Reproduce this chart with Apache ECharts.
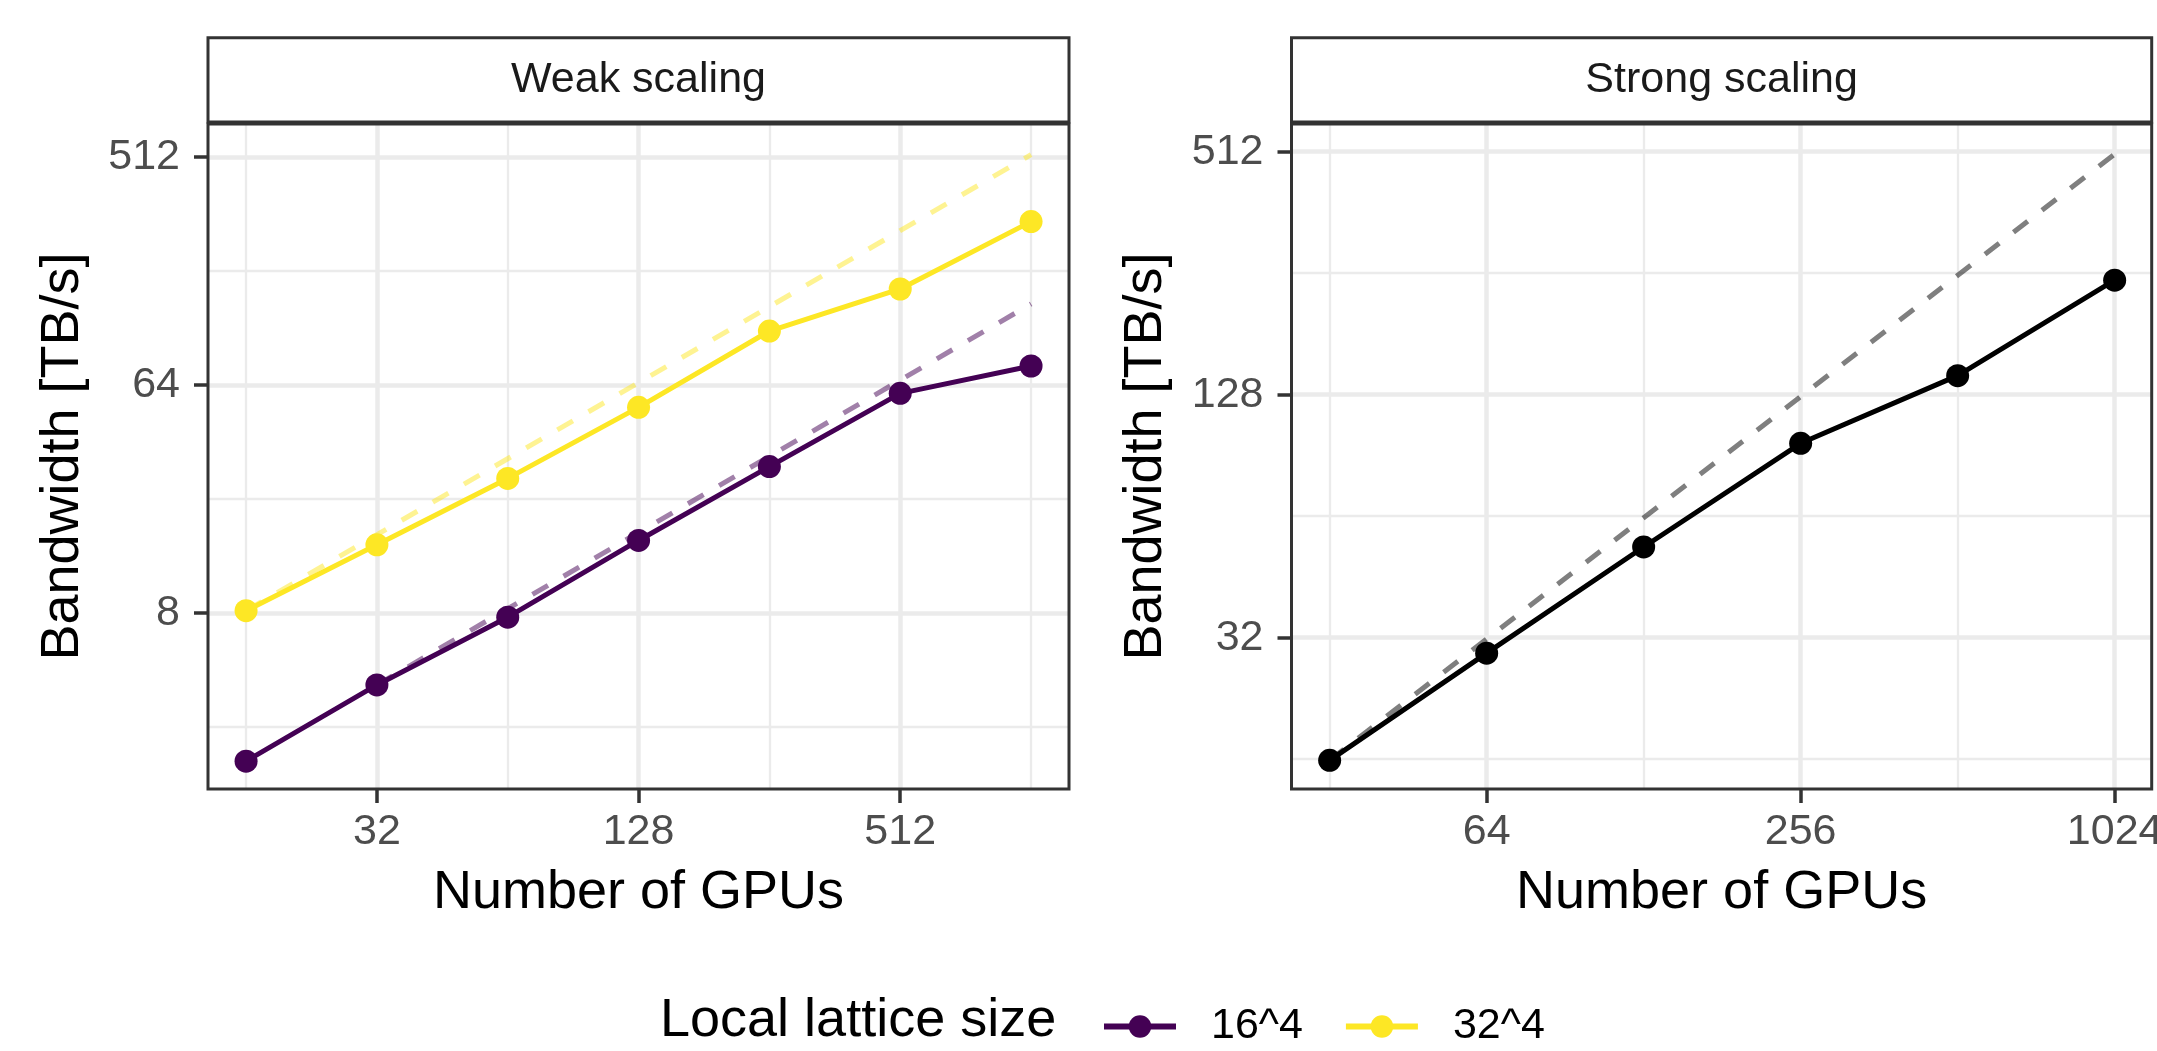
<!DOCTYPE html>
<html>
<head>
<meta charset="utf-8">
<title>Weak and strong scaling</title>
<script src="https://cdn.jsdelivr.net/npm/echarts@6/dist/echarts.min.js"></script>
<style>
  html, body { margin: 0; padding: 0; background: #fff; }
  #chart { width: 2157px; height: 1051px; }
</style>
</head>
<body>
<div id="chart"></div>
<script>
// weak scaling: bandwidth [TB/s] per number of GPUs, one list per local lattice size
const weakGpus = [16, 32, 64, 128, 256, 512, 1024];
const bw16 = [2.07, 4.15, 7.7, 15.5, 30.4, 59.3, 76.1];
const bw32 = [8.17, 14.9, 27.3, 52.2, 104.7, 153.6, 284];
// ideal scaling (dashed), end points
const ideal16 = [[32, 4.15], [1024, 134]];
const ideal32 = [[16, 8.17], [1024, 523]];

// strong scaling
const strongGpus = [32, 64, 128, 256, 512, 1024];
const bwStrong = [15.9, 29.3, 53.7, 97, 142.7, 246];
const idealStrong = [[32, 15.9], [1024, 505]];

// tick labels (major) and minor grid positions
const weakXTicks = [32, 128, 512];
const weakXMinor = [16, 64, 256, 1024];
const weakYTicks = [8, 64, 512];
const weakYMinor = [2.83, 22.6, 181];
const strongXTicks = [64, 256, 1024];
const strongXMinor = [32, 128, 512];
const strongYTicks = [32, 128, 512];
const strongYMinor = [16, 64, 256];

const FONT = '"Liberation Sans", Arial, Helvetica, sans-serif';
const p2 = e => Math.pow(2, e);

const panels = [
  { left: 208, top: 124, width: 861, height: 665 },
  { left: 1291.5, top: 124, width: 860.2, height: 665 }
];

function axis(gridIndex, range, ticks, minor, isX) {
  const major = {
    type: 'log', logBase: 2, gridIndex: gridIndex,
    min: p2(range[0]), max: p2(range[1]),
    axisLine: { show: false },
    axisTick: { show: true, customValues: ticks, length: 14, lineStyle: { color: '#333333', width: 3.5 } },
    axisLabel: {
      customValues: ticks, margin: isX ? 22 : 28,
      fontSize: 43, color: '#4D4D4D', fontFamily: FONT,
      formatter: v => String(Math.round(v))
    },
    splitLine: { show: true, lineStyle: { color: '#EBEBEB', width: 4.5 } },
    name: isX ? 'Number of GPUs' : 'Bandwidth [TB/s]',
    nameLocation: 'middle',
    nameGap: isX ? 77 : 118,
    nameMoveOverlap: false,
    nameTextStyle: { fontSize: 54, color: '#000', fontFamily: FONT }
  };
  const minorAxis = {
    type: 'log', logBase: 2, gridIndex: gridIndex,
    min: p2(range[0]), max: p2(range[1]),
    axisLine: { show: false },
    axisTick: { show: false, customValues: minor },
    axisLabel: { show: false, customValues: minor },
    splitLine: { show: true, lineStyle: { color: '#EBEBEB', width: 2.3 } }
  };
  return [major, minorAxis];
}

function pairs(xs, ys) {
  return xs.map((x, i) => [x, ys[i]]);
}

function solid(name, color, xi, yi, data) {
  return {
    name: name, type: 'line', xAxisIndex: xi, yAxisIndex: yi,
    data: data, symbol: 'circle', symbolSize: 23, showAllSymbol: true,
    lineStyle: { color: color, width: 5 },
    itemStyle: { color: color, borderWidth: 0 },
    silent: true, z: 3
  };
}

function dashed(name, color, xi, yi, data) {
  return {
    name: name, type: 'line', xAxisIndex: xi, yAxisIndex: yi,
    data: data, symbol: 'none',
    lineStyle: { color: color, width: 5, type: [18, 18] },
    silent: true, z: 2
  };
}

const chart = echarts.init(document.getElementById('chart'), null, { renderer: 'canvas' });

const option = {
  animation: false,
  backgroundColor: '#fff',
  grid: panels.map(p => Object.assign({
    show: true, borderColor: '#333333', borderWidth: 3,
    backgroundColor: 'transparent', containLabel: false, outerBoundsMode: 'none', z: 1
  }, p)),
  xAxis: [].concat(
    axis(0, [3.709, 10.29], weakXTicks, weakXMinor, true),
    axis(1, [4.757, 10.236], strongXTicks, strongXMinor, true)
  ),
  yAxis: [].concat(
    axis(0, [0.684, 9.434], weakYTicks, weakYMinor, false),
    axis(1, [3.755, 9.228], strongYTicks, strongYMinor, false)
  ),
  legend: {
    data: ['16^4', '32^4'],
    left: 1096, top: 1000,
    itemWidth: 72, itemHeight: 28, itemGap: 40,
    selectedMode: false,
    lineStyle: { width: 6 },
    textStyle: { fontSize: 43, color: '#000', fontFamily: FONT, padding: [0, 0, 0, 30] }
  },
  graphic: [
    { type: 'rect', shape: { x: 208, y: 37.7, width: 861, height: 84.3 },
      style: { fill: '#fff', stroke: '#333333', lineWidth: 3 } },
    { type: 'text', x: 638.5, y: 80,
      style: { text: 'Weak scaling', fontSize: 43, fontFamily: FONT, fill: '#1A1A1A', align: 'center', verticalAlign: 'middle' } },
    { type: 'rect', shape: { x: 1291.5, y: 37.7, width: 860.2, height: 84.3 },
      style: { fill: '#fff', stroke: '#333333', lineWidth: 3 } },
    { type: 'text', x: 1721.6, y: 80,
      style: { text: 'Strong scaling', fontSize: 43, fontFamily: FONT, fill: '#1A1A1A', align: 'center', verticalAlign: 'middle' } },
    { type: 'text', x: 660, y: 1021,
      style: { text: 'Local lattice size', fontSize: 54, fontFamily: FONT, fill: '#000', align: 'left', verticalAlign: 'middle' } }
  ],
  series: [
    dashed('16^4 ideal', 'rgba(68,1,84,0.5)', 0, 0, ideal16),
    dashed('32^4 ideal', 'rgba(253,231,37,0.5)', 0, 0, ideal32),
    solid('16^4', '#440154', 0, 0, pairs(weakGpus, bw16)),
    solid('32^4', '#FDE725', 0, 0, pairs(weakGpus, bw32)),
    dashed('strong ideal', 'rgba(0,0,0,0.5)', 2, 2, idealStrong),
    solid('strong', '#000000', 2, 2, pairs(strongGpus, bwStrong))
  ]
};

chart.setOption(option);
window.addEventListener('resize', () => {
  chart.resize();
});
</script>
</body>
</html>
